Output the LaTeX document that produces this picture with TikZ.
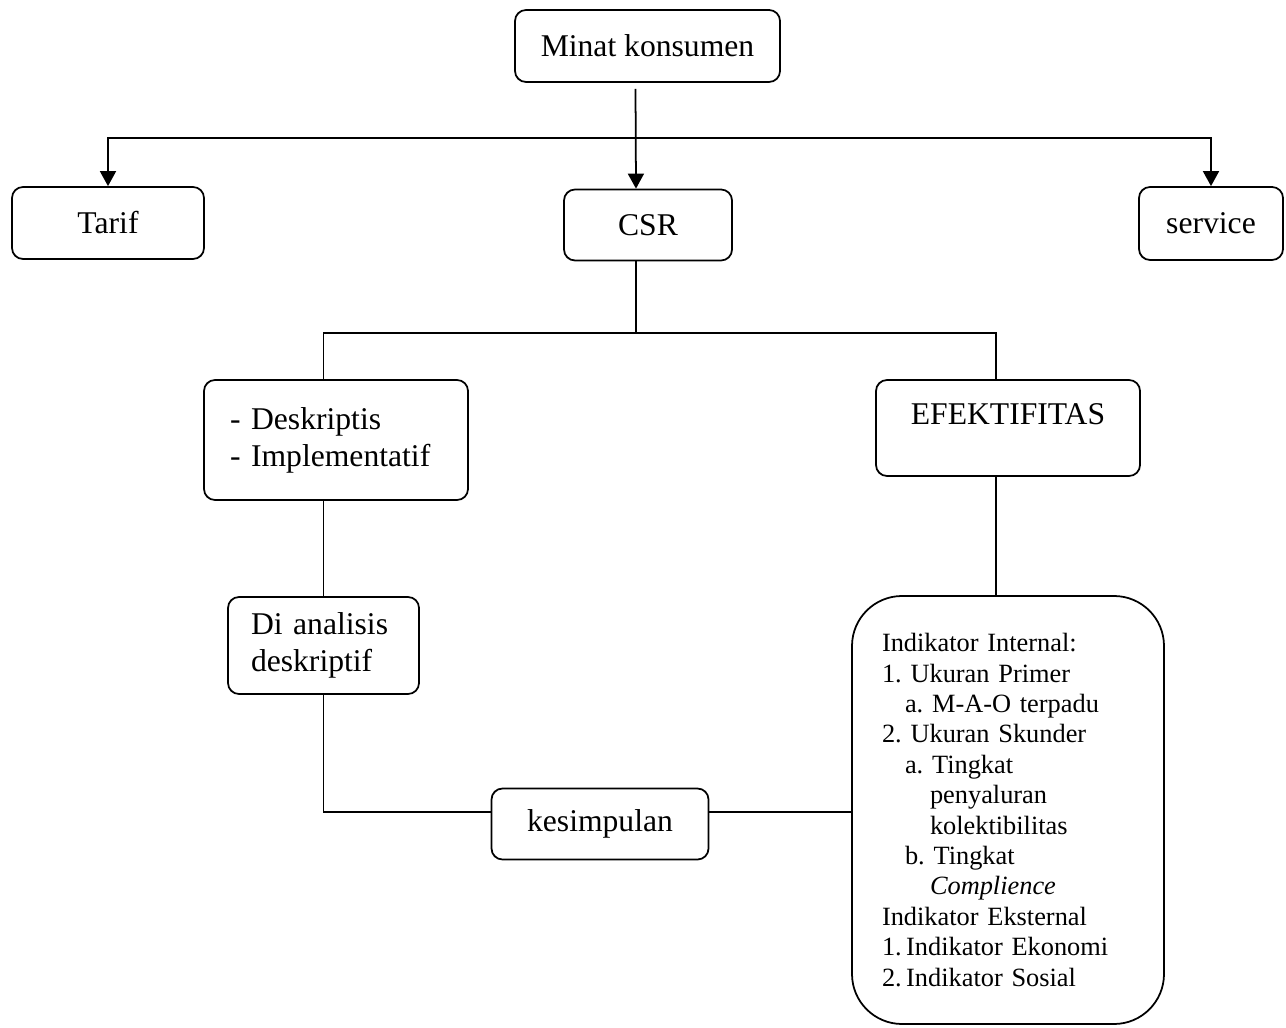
\documentclass[tikz,border=0pt]{standalone}
\usepackage{fontspec}
\setmainfont{Liberation Serif}
\usetikzlibrary{arrows.meta}
\frenchspacing

\tikzset{
  kotak/.style={draw, line width=1pt, rounded corners=0.22cm, inner sep=0pt, font=\fontsize{18}{21}\selectfont},
  garis/.style={line width=1pt},
  panah/.style={line width=1pt, -{Triangle[width=0.32cm,length=0.3cm]}},
}

\begin{document}
\begin{tikzpicture}
\useasboundingbox (0,0) rectangle (25.72,20.54);

%boxes
\node[kotak, minimum width=5.3cm, minimum height=1.44cm] (minat) at (12.95,19.62) {Minat konsumen};
\node[kotak, minimum width=3.84cm, minimum height=1.44cm] (tarif) at (2.16,16.08) {Tarif};
\node[kotak, minimum width=3.36cm, minimum height=1.42cm] (csr) at (12.96,16.04) {CSR};
\node[kotak, minimum width=2.88cm, minimum height=1.46cm] (service) at (24.22,16.07) {service};

\node[kotak, minimum height=2.4cm, text width=4.24cm, inner xsep=0.52cm, align=left] (desk) at (6.72,11.74) {- Deskriptis\\- Implementatif};
\node[kotak, minimum width=5.28cm, minimum height=1.92cm, text depth=0.54cm] (efek) at (20.16,11.98) {EFEKTIFITAS};

\node[kotak, minimum height=1.94cm, text width=2.9cm, inner xsep=0.46cm, align=left] (dian) at (6.47,7.63) {Di analisis\\deskriptif};
\node[kotak, minimum width=4.34cm, minimum height=1.42cm] (kesim) at (12.0,4.06) {kesimpulan};

\node[kotak, rounded corners=1cm, minimum height=8.56cm, text width=5.04cm, inner xsep=0.6cm, align=left, font=\fontsize{15}{17.3}\selectfont] (indik) at (20.16,4.34) {Indikator Internal:\\
1. Ukuran Primer\\
\hspace*{0.46cm}a. M-A-O terpadu\\
2. Ukuran Skunder\\
\hspace*{0.46cm}a. Tingkat\\
\hspace*{0.96cm}penyaluran\\
\hspace*{0.96cm}kolektibilitas\\
\hspace*{0.46cm}b. Tingkat\\
\hspace*{0.96cm}\textit{Complience}\\
Indikator Eksternal\\
1.\,Indikator Ekonomi\\
2.\,Indikator Sosial};

%connectors
\coordinate (cab) at (12.72,17.78);
\coordinate (cab2) at (12.72,13.88);

\draw[panah] ([xshift=-0.24cm,yshift=-0.12cm]minat.south) -- ([xshift=-0.24cm]csr.north);
\draw[panah] (cab) -| (tarif.north);
\draw[panah] (cab) -| (service.north);

\draw[garis] ([xshift=-0.24cm]csr.south) -- (cab2);
\draw[garis] (cab2) -| (dian.north |- desk.north);
\draw[garis] (cab2) -| ([xshift=-0.24cm]efek.north);

\draw[garis] (dian.north |- desk.south) -- (dian.north);
\draw[garis] (dian.south) |- ([yshift=0.24cm]kesim.west);
\draw[garis] ([yshift=0.24cm]kesim.east) -- (indik.west |- 0,4.3);
\draw[garis] ([xshift=-0.24cm]efek.south) -- ([xshift=-0.24cm]indik.north);

\end{tikzpicture}
\end{document}
